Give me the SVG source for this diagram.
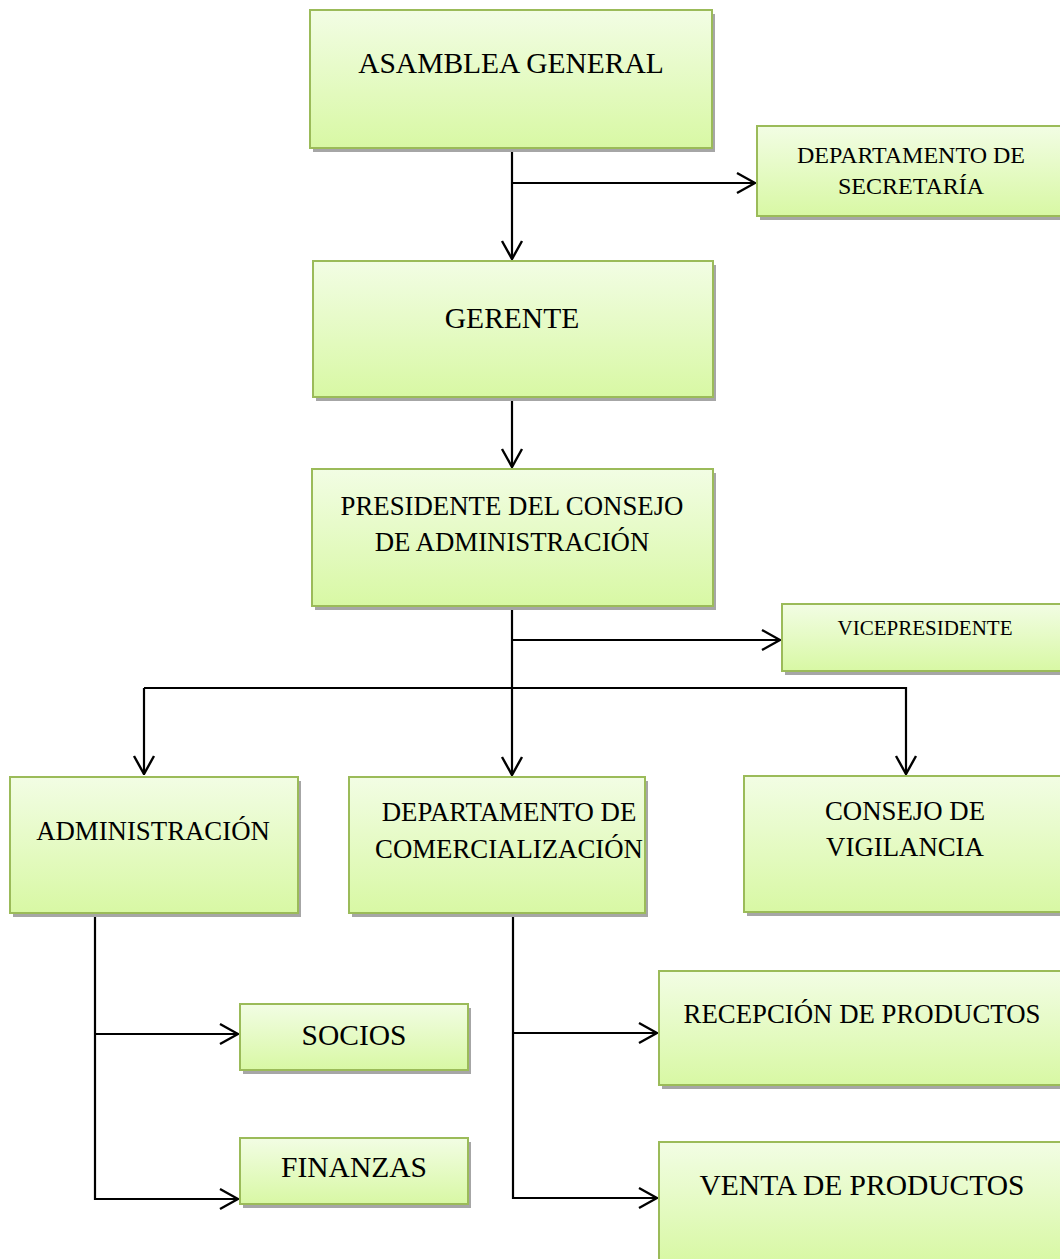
<svg xmlns="http://www.w3.org/2000/svg" width="1060" height="1259" viewBox="0 0 1060 1259">
  <defs>
    <linearGradient id="fillGreen" x1="0" y1="0" x2="0" y2="1">
      <stop offset="0" stop-color="#f2fde4"/>
      <stop offset="1" stop-color="#d8f8a4"/>
    </linearGradient>
    <marker id="arrow" viewBox="0 0 20 24" refX="19" refY="12" markerWidth="20" markerHeight="24" markerUnits="userSpaceOnUse" orient="auto">
      <path d="M1,2 L19,12 L1,22" fill="none" stroke="#000" stroke-width="2.4"/>
    </marker>
    <style>
      .shadow { fill: #a6a6a6; }
      .box { fill: url(#fillGreen); stroke: #9bbb59; stroke-width: 2; }
      .lbl { font-family: "Liberation Serif", "Times New Roman", serif; fill: #000; text-anchor: middle; }
      .big { font-size: 29.5px; }
      .mid { font-size: 26.8px; }
      .sm { font-size: 24px; }
      .xs { font-size: 21px; }
      .conn { fill: none; stroke: #000; stroke-width: 2.2; }
    </style>
  </defs>

  <!-- connectors -->
  <g id="connectors">
    <path class="conn" d="M512,148 V259" marker-end="url(#arrow)"/>
    <path class="conn" d="M512,183 H755" marker-end="url(#arrow)"/>
    <path class="conn" d="M512,399 V467" marker-end="url(#arrow)"/>
    <path class="conn" d="M512,606 V775" marker-end="url(#arrow)"/>
    <path class="conn" d="M512,640 H780" marker-end="url(#arrow)"/>
    <path class="conn" d="M144,688 H906 V774" marker-end="url(#arrow)"/>
    <path class="conn" d="M144,688 V774" marker-end="url(#arrow)"/>
    <path class="conn" d="M95,913 V1199 H238" marker-end="url(#arrow)"/>
    <path class="conn" d="M95,1034 H238" marker-end="url(#arrow)"/>
    <path class="conn" d="M513,913 V1198 H657" marker-end="url(#arrow)"/>
    <path class="conn" d="M513,1033 H657" marker-end="url(#arrow)"/>
  </g>

  <g id="asamblea-general">
    <rect class="shadow" x="313" y="14" width="402" height="138"/>
    <rect class="box" x="310" y="10" width="402" height="138"/>
    <text class="lbl big" x="511" y="73">ASAMBLEA GENERAL</text>
  </g>

  <g id="departamento-secretaria">
    <rect class="shadow" x="760" y="130" width="310" height="90"/>
    <rect class="box" x="757" y="126" width="310" height="90"/>
    <text class="lbl sm" x="911" y="163">DEPARTAMENTO DE</text>
    <text class="lbl sm" x="911" y="194">SECRETARÍA</text>
  </g>

  <g id="gerente">
    <rect class="shadow" x="316" y="265" width="400" height="136"/>
    <rect class="box" x="313" y="261" width="400" height="136"/>
    <text class="lbl big" x="512" y="328">GERENTE</text>
  </g>

  <g id="presidente">
    <rect class="shadow" x="315" y="473" width="401" height="137"/>
    <rect class="box" x="312" y="469" width="401" height="137"/>
    <text class="lbl mid" x="512" y="515">PRESIDENTE DEL CONSEJO</text>
    <text class="lbl mid" x="512" y="551">DE ADMINISTRACIÓN</text>
  </g>

  <g id="vicepresidente">
    <rect class="shadow" x="785" y="608" width="290" height="67"/>
    <rect class="box" x="782" y="604" width="290" height="67"/>
    <text class="lbl xs" x="925" y="635">VICEPRESIDENTE</text>
  </g>

  <g id="administracion">
    <rect class="shadow" x="13" y="781" width="288" height="136"/>
    <rect class="box" x="10" y="777" width="288" height="136"/>
    <text class="lbl mid" x="153" y="840">ADMINISTRACIÓN</text>
  </g>

  <g id="comercializacion">
    <rect class="shadow" x="352" y="781" width="296" height="136"/>
    <rect class="box" x="349" y="777" width="296" height="136"/>
    <text class="lbl mid" x="509" y="821">DEPARTAMENTO DE</text>
    <text class="lbl mid" x="509" y="858">COMERCIALIZACIÓN</text>
  </g>

  <g id="consejo-vigilancia">
    <rect class="shadow" x="747" y="780" width="330" height="136"/>
    <rect class="box" x="744" y="776" width="330" height="136"/>
    <text class="lbl mid" x="905" y="820">CONSEJO DE</text>
    <text class="lbl mid" x="905" y="856">VIGILANCIA</text>
  </g>

  <g id="socios">
    <rect class="shadow" x="243" y="1008" width="228" height="66"/>
    <rect class="box" x="240" y="1004" width="228" height="66"/>
    <text class="lbl big" x="354" y="1045">SOCIOS</text>
  </g>

  <g id="finanzas">
    <rect class="shadow" x="243" y="1142" width="228" height="66"/>
    <rect class="box" x="240" y="1138" width="228" height="66"/>
    <text class="lbl big" x="354" y="1177">FINANZAS</text>
  </g>

  <g id="recepcion-productos">
    <rect class="shadow" x="662" y="975" width="410" height="114"/>
    <rect class="box" x="659" y="971" width="410" height="114"/>
    <text class="lbl mid" x="862" y="1023">RECEPCIÓN DE PRODUCTOS</text>
  </g>

  <g id="venta-productos">
    <rect class="shadow" x="662" y="1146" width="410" height="120"/>
    <rect class="box" x="659" y="1142" width="410" height="120"/>
    <text class="lbl big" x="862" y="1195">VENTA DE PRODUCTOS</text>
  </g>
</svg>
